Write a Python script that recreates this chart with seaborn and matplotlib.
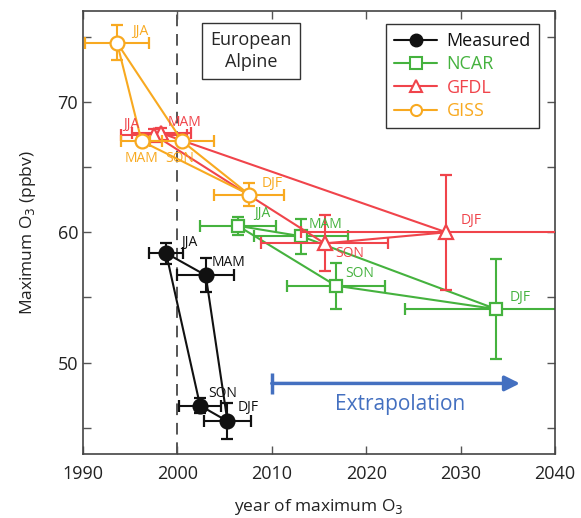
import numpy as np
import pandas as pd
import matplotlib
matplotlib.use('Agg')
import matplotlib.pyplot as plt
from matplotlib.lines import Line2D
from matplotlib.ticker import MultipleLocator
import seaborn as sns

# seasons, in the order the loop is drawn
seasons = ['DJF', 'MAM', 'JJA', 'SON']

# year of max O3, max O3 (ppbv) and their error bars
meas_yr = [2005.3, 2003.0, 1998.8, 2002.4]
meas_o3 = [45.5, 56.7, 58.4, 46.7]
meas_xerr = [2.5, 3.0, 1.8, 2.2]
meas_yerr = [1.4, 1.3, 0.8, 0.6]

ncar_yr = [2033.8, 2013.1, 2006.4, 2016.8]
ncar_o3 = [54.1, 59.7, 60.5, 55.9]
ncar_xerr = [9.7, 5.0, 4.0, 5.2]
ncar_yerr = [3.85, 1.35, 0.7, 1.75]

gfdl_yr = [2028.5, 1998.3, 1997.5, 2015.6]
gfdl_o3 = [60.0, 67.6, 67.5, 59.15]
gfdl_xerr = [15.4, 3.1, 3.5, 6.7]
gfdl_yerr = [4.4, 0.4, 0.4, 2.15]

giss_yr = [2007.6, 1996.2, 1993.6, 2000.5]
giss_o3 = [62.9, 67.0, 74.55, 67.0]
giss_xerr = [3.7, 2.2, 3.4, 3.4]
giss_yerr = [0.9, 0.3, 1.35, 0.3]

# extrapolation arrow: start year, end year, level
extrap_x = [2010, 2036.3]
extrap_y = 48.4

# label offsets in pixels (DJF, MAM, JJA, SON)
meas_lab = [(21, 14), (23, 13), (23, 11), (23, 12)]
ncar_lab = [(24, 12)] * 4
gfdl_lab = [(25, 12), (23, 11), (-23, 10), (25, -10)]
giss_lab = [(23, 11), (0, -17), (23, 11), (-2, -17)]

black = '#111111'
green = '#45b23e'
red = '#f0444b'
orange = '#f8a920'
blue = '#4470c0'

sns.set_style('ticks')
plt.rcParams['font.family'] = ['Open Sans', 'DejaVu Sans']

fig = plt.figure(figsize=(5.81, 5.18), dpi=100)
ax = fig.add_axes([0.143, 0.124, 0.812, 0.855])

models = [
    ('NCAR', ncar_yr, ncar_o3, ncar_xerr, ncar_yerr, ncar_lab, green, 's', 'white', 9),
    ('GFDL', gfdl_yr, gfdl_o3, gfdl_xerr, gfdl_yerr, gfdl_lab, red, '^', 'white', 10),
    ('GISS', giss_yr, giss_o3, giss_xerr, giss_yerr, giss_lab, orange, 'o', 'white', 10),
    ('Measured', meas_yr, meas_o3, meas_xerr, meas_yerr, meas_lab, black, 'o', black, 10),
]

for z, (name, yr, o3, xe, ye, lab, col, mk, fc, ms) in enumerate(models):
    df = pd.DataFrame({'yr': yr + yr[:1], 'o3': o3 + o3[:1]})
    sns.lineplot(data=df, x='yr', y='o3', sort=False, estimator=None,
                 color=col, lw=1.5, ax=ax, zorder=2 + z)
    ax.errorbar(yr, o3, xerr=xe, yerr=ye, fmt=mk, color=col, mfc=fc, mec=col,
                mew=1.6, ms=ms, elinewidth=1.5, capsize=4, capthick=1.5,
                zorder=2.5 + z)
    for s, x, y, off in zip(seasons, yr, o3, lab):
        ax.annotate(s, (x, y), xytext=off, textcoords='offset pixels',
                    ha='center', va='center', fontsize=10, color=col,
                    zorder=6)

ax.axvline(2000, color='#555555', lw=1.4, dashes=(6, 4), zorder=1)

# extrapolation arrow
ax.annotate('', xy=(extrap_x[1], extrap_y), xytext=(extrap_x[0], extrap_y),
            arrowprops=dict(arrowstyle='-|>,head_length=0.9,head_width=0.45',
                            color=blue, lw=2.5, shrinkA=0, shrinkB=0))
ax.plot([extrap_x[0], extrap_x[0]], [extrap_y - 0.8, extrap_y + 0.8],
        color=blue, lw=2.5, solid_capstyle='butt')
ax.text(np.mean(extrap_x) + 0.5, extrap_y - 1.6, 'Extrapolation', color=blue,
        fontsize=15, ha='center', va='center')

ax.text(0.356, 0.909, 'European\nAlpine', transform=ax.transAxes, fontsize=13,
        ha='center', va='center', linespacing=1.3,
        bbox=dict(boxstyle='square,pad=0.45', fc='white', ec='#333333', lw=1))

handles = [Line2D([], [], color=black, marker='o', mfc=black, ms=9, lw=1.5),
           Line2D([], [], color=green, marker='s', mfc='white', mew=1.5, ms=8, lw=1.5),
           Line2D([], [], color=red, marker='^', mfc='white', mew=1.5, ms=9, lw=1.5),
           Line2D([], [], color=orange, marker='o', mfc='white', mew=1.5, ms=8, lw=1.5)]
leg = ax.legend(handles, ['Measured', 'NCAR', 'GFDL', 'GISS'], loc='upper right',
                bbox_to_anchor=(0.966, 0.971), borderaxespad=0, fontsize=13,
                handlelength=2.4, handletextpad=0.5, labelspacing=0.3,
                borderpad=0.45, fancybox=False, framealpha=1, edgecolor='#333333')
leg.get_frame().set_linewidth(1)
for t, c in zip(leg.get_texts(), [black, green, red, orange]):
    t.set_color(c)

ax.set_xlim(1990, 2040)
ax.set_ylim(43, 77)
ax.set_xticks([1990, 2000, 2010, 2020, 2030, 2040])
ax.set_yticks([50, 60, 70])
ax.yaxis.set_minor_locator(MultipleLocator(5))
ax.tick_params(which='both', direction='in', top=True, right=True,
               length=6, width=1, color='#555555', labelsize=13, labelcolor='#222222')
ax.tick_params(axis='x', pad=8)
for sp in ax.spines.values():
    sp.set_color('#444444')
    sp.set_linewidth(1.2)

ax.set_xlabel('year of maximum O$_3$', fontsize=12.5, color='#222222', labelpad=10)
ax.set_ylabel('Maximum O$_3$ (ppbv)', fontsize=12.5, color='#222222', labelpad=14)

fig.savefig('out.png', dpi=100)
